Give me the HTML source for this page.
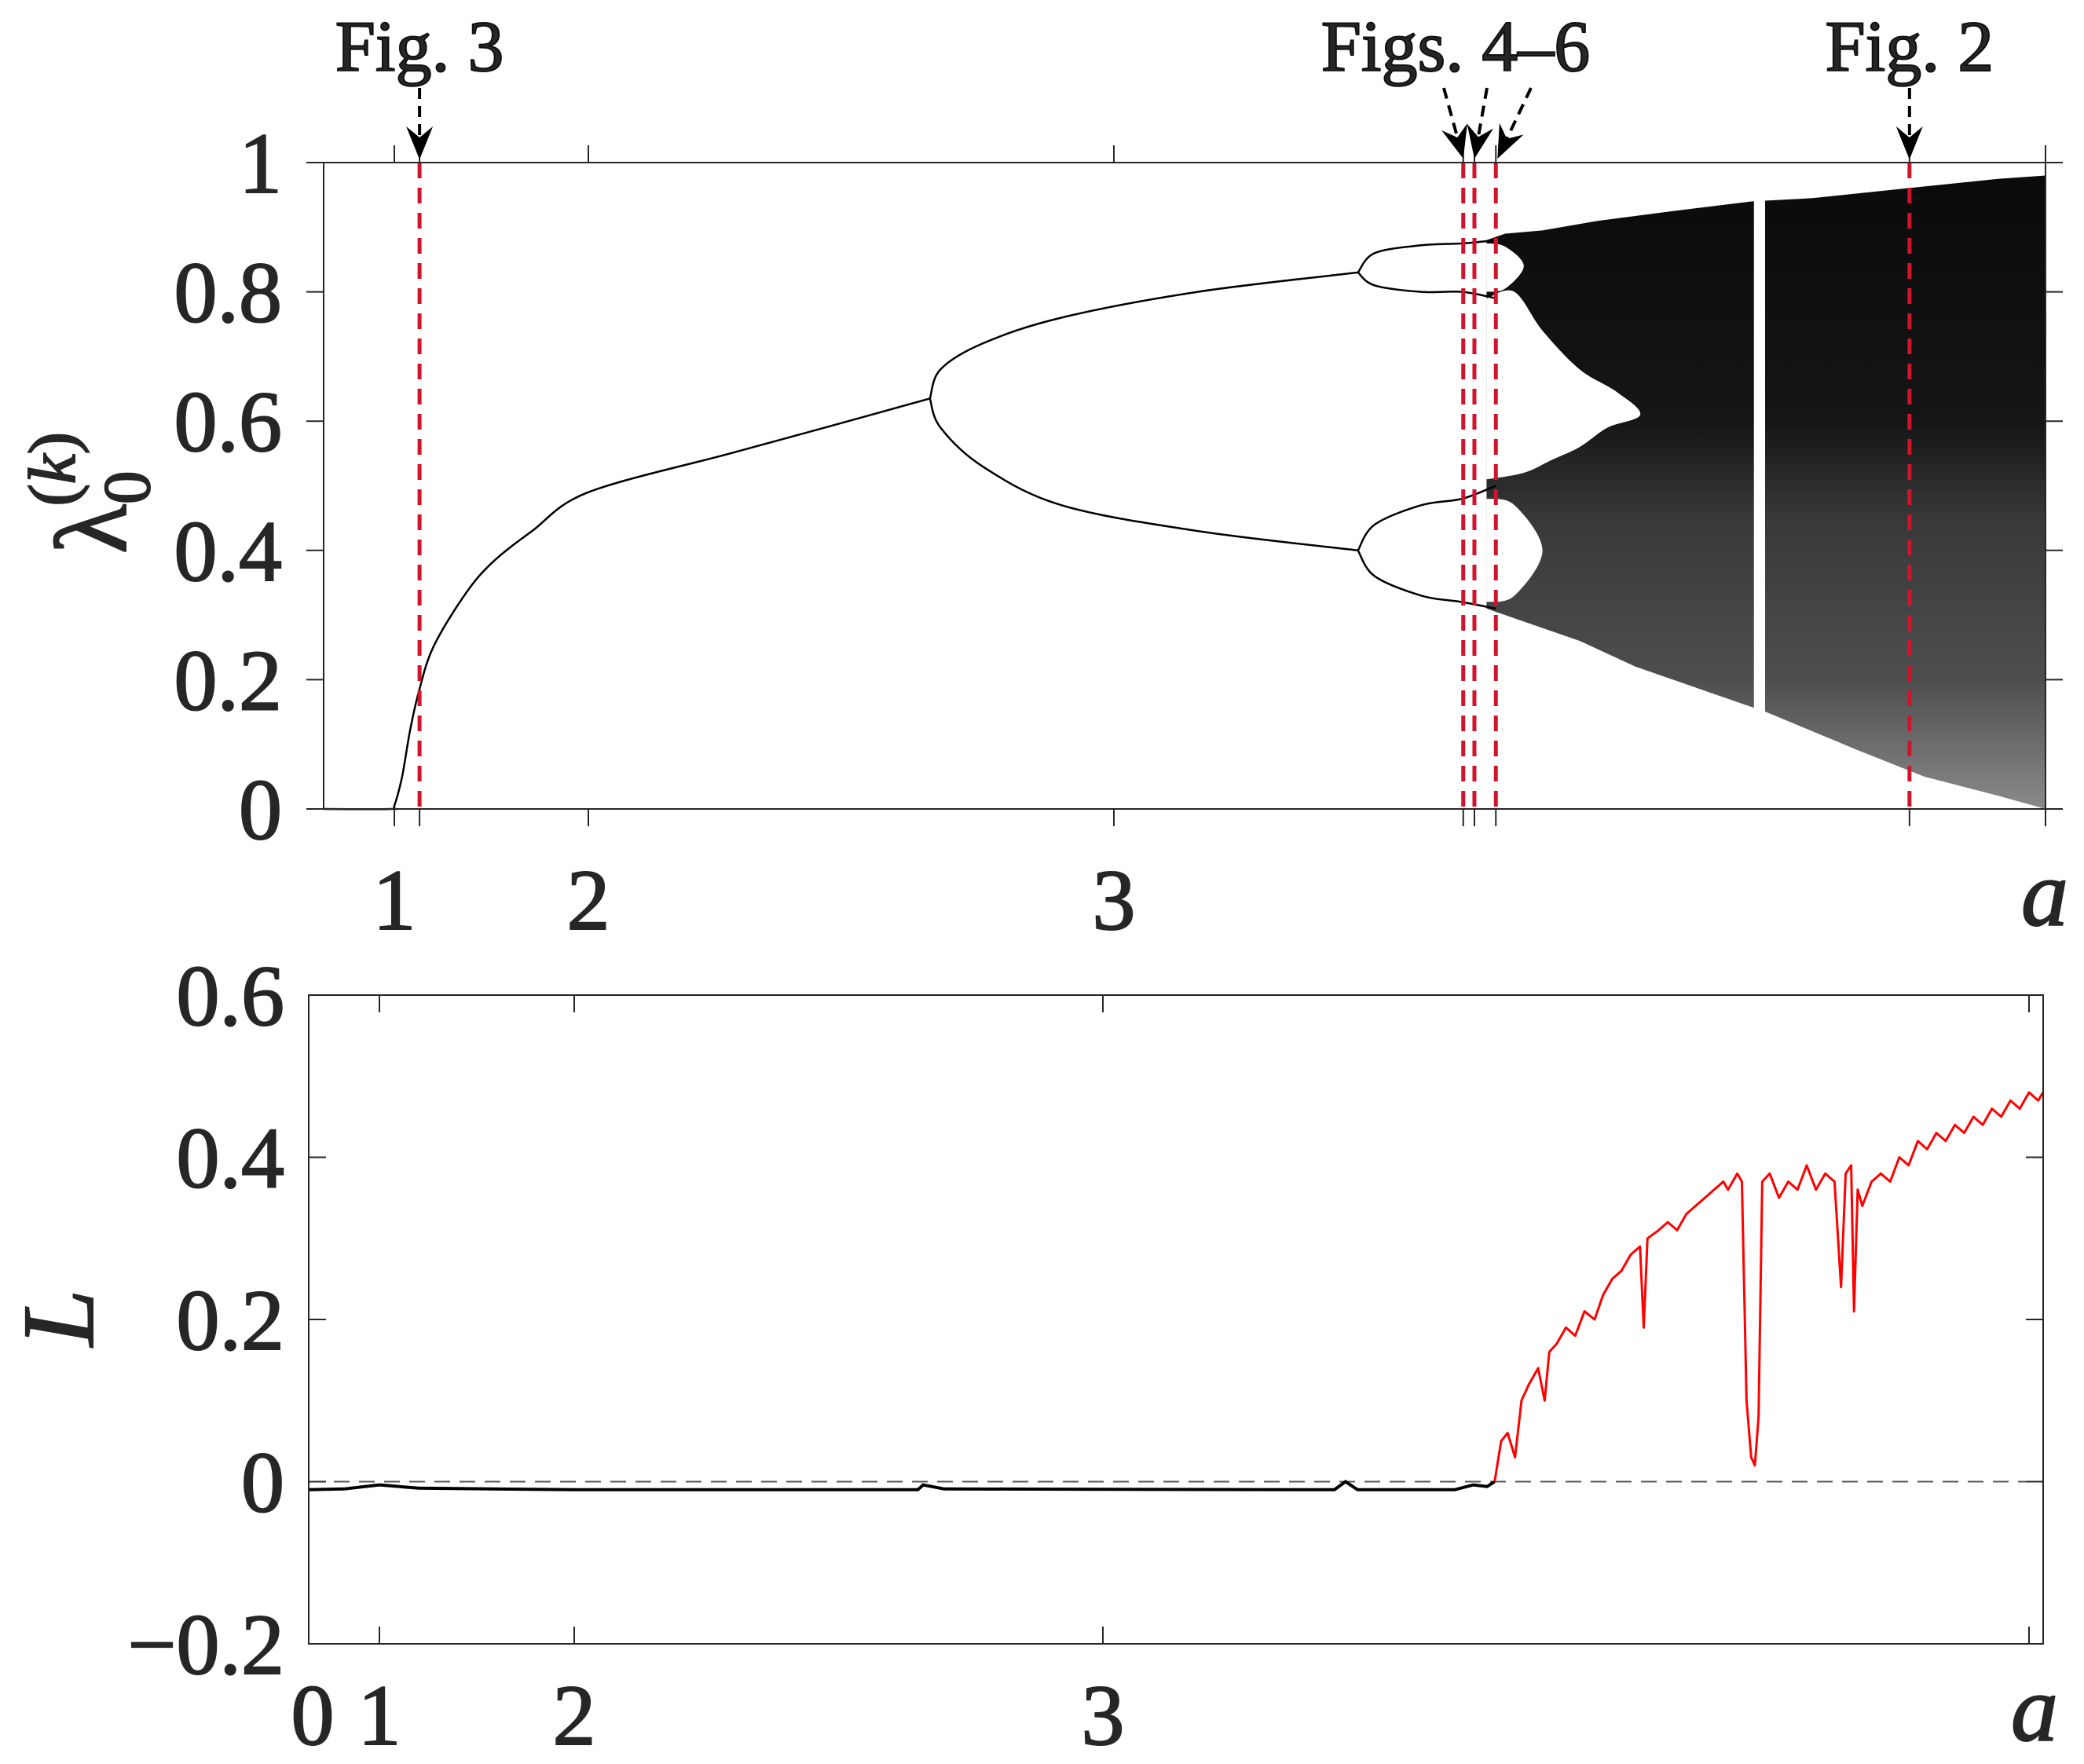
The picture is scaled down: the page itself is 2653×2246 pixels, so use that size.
<!DOCTYPE html>
<html><head><meta charset="utf-8">
<style>
html,body{margin:0;padding:0;background:#fff;}
svg{display:block;}
text{font-family:"Liberation Serif",serif;fill:#262626;}
</style></head>
<body>
<svg id="chart" width="2653" height="2246" viewBox="0 0 2653 2246" xmlns="http://www.w3.org/2000/svg">
<defs>
<linearGradient id="chaosGrad" gradientUnits="userSpaceOnUse" x1="0" y1="207" x2="0" y2="1030">
<stop offset="0" stop-color="#0a0a0a"/>
<stop offset="0.4" stop-color="#151515"/>
<stop offset="0.55" stop-color="#383838"/>
<stop offset="0.8" stop-color="#4e4e4e"/>
<stop offset="1" stop-color="#8a8a8a"/>
</linearGradient>
</defs>
<g id="topPanel"></g>
<g id="botPanel"></g>
</svg>
<script>
// ---------- data ----------
const xKnotsA = [0, 1, 2, 3, 4];
const topKnotsPx = [412, 502, 749, 1418, 2604];
const botKnotsPx = [393, 483, 731, 1404, 2583];
const topXTicks = [1, 2, 3];
const topXTickLabels = ["1", "2", "3"];
const topYTicks = [0, 0.2, 0.4, 0.6, 0.8, 1];
const topYTickLabels = ["0", "0.2", "0.4", "0.6", "0.8", "1"];
const botXTicks = [0, 1, 2, 3];
const botXTickLabels = ["0", "1", "2", "3"];
const botYTicks = [-0.2, 0, 0.2, 0.4, 0.6];
const botYTickLabels = ["\u22120.2", "0", "0.2", "0.4", "0.6"];
const figLinesA = [1.13, 3.375, 3.387, 3.41, 3.854];

const branchP1 = [[0,0],[0.95,0],[1.0,0.005],[1.04,0.05],[1.08,0.12],[1.125,0.18],[1.2,0.25],[1.36,0.33],[1.5,0.38],[1.71,0.43],[2.0,0.49],[2.27,0.55],[2.45,0.59],[2.65,0.635]];
const branchP2Up = [[2.65,0.635],[2.67,0.68],[2.75,0.72],[2.9,0.76],[3.09,0.80],[3.262,0.83]];
const branchP2Lo = [[2.65,0.635],[2.67,0.59],[2.75,0.53],[2.9,0.47],[3.09,0.43],[3.262,0.40]];
const branchP4a = [[3.262,0.83],[3.28,0.86],[3.33,0.872],[3.374,0.875],[3.41,0.88]];
const branchP4b = [[3.262,0.83],[3.28,0.81],[3.33,0.80],[3.374,0.80],[3.41,0.79]];
const branchP4c = [[3.262,0.40],[3.28,0.44],[3.33,0.47],[3.374,0.48],[3.41,0.50]];
const branchP4d = [[3.262,0.40],[3.28,0.36],[3.33,0.33],[3.374,0.32],[3.41,0.31]];

const chaosUpper = [[3.40,0.88],[3.42,0.89],[3.46,0.895],[3.52,0.91],[3.6,0.925],[3.685,0.94],[3.75,0.945],[3.85,0.96],[3.95,0.975],[4.0,0.98]];
const chaosLower = [[4.0,0.0],[3.95,0.02],[3.87,0.05],[3.80,0.09],[3.70,0.15],[3.66,0.17],[3.56,0.22],[3.50,0.26],[3.46,0.28],[3.42,0.30],[3.40,0.31]];
const holeMain = [[3.40,0.79],[3.43,0.80],[3.46,0.74],[3.50,0.68],[3.54,0.645],[3.565,0.61],[3.53,0.59],[3.50,0.56],[3.47,0.54],[3.44,0.52],[3.40,0.51]];
const holeUpper = [[3.40,0.875],[3.42,0.87],[3.44,0.84],[3.42,0.805],[3.40,0.80]];
const holeLower = [[3.40,0.48],[3.43,0.47],[3.46,0.40],[3.43,0.33],[3.40,0.32]];
const windowGap = [3.687, 3.699, 0.14, 0.95];

const lBlack = [[0,-0.01],[0.5,-0.009],[1,-0.004],[1.2,-0.008],[2,-0.01],[2.65,-0.01],[2.66,-0.004],[2.7,-0.009],[3.25,-0.01],[3.262,0.0],[3.275,-0.01],[3.38,-0.01],[3.40,-0.004],[3.415,-0.006],[3.423,0.0]];
const lRed = [[3.423,0.0],[3.43,0.05],[3.437,0.06],[3.445,0.03],[3.452,0.1],[3.46,0.12],[3.47,0.14],[3.477,0.1],[3.482,0.16],[3.49,0.17],[3.5,0.19],[3.51,0.18],[3.52,0.21],[3.531,0.2],[3.54,0.23],[3.55,0.25],[3.56,0.26],[3.57,0.28],[3.58,0.29],[3.584,0.19],[3.588,0.3],[3.6,0.31],[3.61,0.32],[3.62,0.31],[3.63,0.33],[3.64,0.34],[3.65,0.35],[3.66,0.36],[3.67,0.37],[3.675,0.36],[3.685,0.38],[3.69,0.37],[3.695,0.1],[3.7,0.03],[3.704,0.02],[3.708,0.08],[3.712,0.37],[3.72,0.38],[3.73,0.35],[3.74,0.37],[3.75,0.36],[3.76,0.39],[3.77,0.36],[3.78,0.38],[3.79,0.37],[3.797,0.24],[3.802,0.38],[3.808,0.39],[3.811,0.21],[3.815,0.36],[3.82,0.34],[3.83,0.37],[3.84,0.38],[3.85,0.37],[3.86,0.40],[3.87,0.39],[3.88,0.42],[3.89,0.41],[3.9,0.43],[3.91,0.42],[3.92,0.44],[3.93,0.43],[3.94,0.45],[3.95,0.44],[3.96,0.46],[3.97,0.45],[3.98,0.47],[3.99,0.46],[4.0,0.48],[4.01,0.47],[4.015,0.48]];

// ---------- axes ----------
const NS = "http://www.w3.org/2000/svg";
function pw(a, px){
  for (let i=0;i<xKnotsA.length-1;i++){
    if (a<=xKnotsA[i+1] || i===xKnotsA.length-2){
      const t=(a-xKnotsA[i])/(xKnotsA[i+1]-xKnotsA[i]);
      return px[i]+t*(px[i+1]-px[i]);
    }
  }
}
const TL=412, TR=2604, TT=207, TB=1030;
const BL=393, BR=2601, BT=1267, BB=2093;
const xTop = a => pw(a, topKnotsPx);
const yTop = v => TB - (v/1)*(TB-TT);
const xBot = a => pw(a, botKnotsPx);
const yBot = v => BB - (v+0.2)/0.8*(BB-BT);

function el(tag, attrs, parent){
  const e=document.createElementNS(NS,tag);
  for(const k in attrs) e.setAttribute(k, attrs[k]);
  parent.appendChild(e); return e;
}
function pts(arr, fx, fy){ return arr.map(p=>fx(p[0]).toFixed(1)+","+fy(p[1]).toFixed(1)).join(" "); }
function smoothPath(arr, fx, fy){
  const P=arr.map(p=>[fx(p[0]),fy(p[1])]);
  let d="M"+P[0][0].toFixed(1)+","+P[0][1].toFixed(1);
  for(let i=0;i<P.length-1;i++){
    const p0=P[Math.max(0,i-1)], p1=P[i], p2=P[i+1], p3=P[Math.min(P.length-1,i+2)];
    const c1=[p1[0]+(p2[0]-p0[0])/6, p1[1]+(p2[1]-p0[1])/6];
    const c2=[p2[0]-(p3[0]-p1[0])/6, p2[1]-(p3[1]-p1[1])/6];
    d+=" C"+c1[0].toFixed(1)+","+c1[1].toFixed(1)+" "+c2[0].toFixed(1)+","+c2[1].toFixed(1)+" "+p2[0].toFixed(1)+","+p2[1].toFixed(1);
  }
  return d;
}

const gTop=document.getElementById("topPanel"), gBot=document.getElementById("botPanel");

// chaos region
const chaos = el("polygon",{points:pts(chaosUpper.concat(chaosLower),xTop,yTop),fill:"url(#chaosGrad)"},gTop);


[holeMain, holeUpper, holeLower].forEach((h,i)=>{
  const p=el("path",{d:smoothPath(h,xTop,yTop)+" Z",fill:"#fff"},gTop);
  
  
});
const gap = el("rect",{x:xTop(windowGap[0]),y:yTop(windowGap[3]),width:xTop(windowGap[1])-xTop(windowGap[0]),height:yTop(windowGap[2])-yTop(windowGap[3]),fill:"#fff"},gTop);



[branchP1,branchP2Up,branchP2Lo,branchP4a,branchP4b,branchP4c,branchP4d].forEach((b,i)=>{
  const l=el("path",{d:smoothPath(b,xTop,yTop),fill:"none",stroke:"#000","stroke-width":2.5},gTop);
  
  
});

// red fig lines
figLinesA.forEach((a,i)=>{
  const l=el("line",{x1:xTop(a),x2:xTop(a),y1:TT,y2:TB,stroke:"#d0142c","stroke-width":5,"stroke-dasharray":"20 12"},gTop);
  
  
});

// top frame and ticks
const tf=el("rect",{x:TL,y:TT,width:TR-TL,height:TB-TT,fill:"none",stroke:"#262626","stroke-width":2},gTop);


topYTicks.forEach((v,i)=>{
  const y=yTop(v);
  el("line",{x1:TL-22,x2:TL,y1:y,y2:y,stroke:"#262626","stroke-width":2},gTop);
  el("line",{x1:TR,x2:TR+22,y1:y,y2:y,stroke:"#262626","stroke-width":2},gTop);
  const t=el("text",{x:359,y:y+38,"text-anchor":"end","font-size":110,stroke:"#262626","stroke-width":2},gTop);
  t.textContent=topYTickLabels[i];
  
  
});
topXTicks.concat(figLinesA).concat([4]).forEach(a=>{
  const x=xTop(a);
  el("line",{x1:x,x2:x,y1:TB,y2:TB+22,stroke:"#262626","stroke-width":2},gTop);
  el("line",{x1:x,x2:x,y1:TT-22,y2:TT,stroke:"#262626","stroke-width":2},gTop);
});
topXTicks.forEach((a,i)=>{
  const t=el("text",{x:xTop(a),y:1183,"text-anchor":"middle","font-size":110,stroke:"#262626","stroke-width":2},gTop);
  t.textContent=topXTickLabels[i];
  
  
});

// annotations
function ann(txt,x,name){
  const t=el("text",{x:x,y:90,"text-anchor":"middle","font-size":92,stroke:"#111","stroke-width":2,fill:"#111"},gTop);
  t.textContent=txt;
  
  
}
ann("Fig. 3",xTop(figLinesA[0]),"fig3-annotation");
ann("Figs.  4\u20136",1853,"figs4-6-annotation");
ann("Fig.  2",xTop(figLinesA[4]),"fig2-annotation");
function arrow(x1,y1,x2,y2,name){
  const dx=x2-x1, dy=y2-y1, L=Math.hypot(dx,dy), ux=dx/L, uy=dy/L;
  const bx=x2-ux*38, by=y2-uy*38;
  const g=el("g",{},gTop);
  
  
  el("line",{x1:x1,y1:y1,x2:bx+ux*10,y2:by+uy*10,stroke:"#000","stroke-width":4,"stroke-dasharray":"14 9"},g);
  const px=-uy, py=ux;
  const p=[[x2,y2],[bx-ux*4+px*17,by-uy*4+py*17],[bx+ux*10,by+uy*10],[bx-ux*4-px*17,by-uy*4-py*17]];
  el("polygon",{points:p.map(q=>q[0].toFixed(1)+","+q[1].toFixed(1)).join(" "),fill:"#000"},g);
}
arrow(xTop(figLinesA[0]),112,xTop(figLinesA[0]),203,"fig3-arrow");
arrow(1838,112,xTop(figLinesA[1]),202,"figs4-6-arrow-1");
arrow(1893,112,xTop(figLinesA[2]),202,"figs4-6-arrow-2");
arrow(1949,112,xTop(figLinesA[3])+2,202,"figs4-6-arrow-3");
arrow(xTop(figLinesA[4]),112,xTop(figLinesA[4]),203,"fig2-arrow");

// top axis labels
const ylab=el("text",{x:0,y:0,"font-size":130,stroke:"#262626","stroke-width":2,transform:"translate(160,705) rotate(-90)"},gTop);


ylab.innerHTML='<tspan>\u03bb</tspan><tspan font-size="85" dy="30">0</tspan><tspan font-size="85" dy="-95" dx="-45">(<tspan font-style="italic">k</tspan>)</tspan>';
const xlabT=el("text",{x:2603,y:1178,"text-anchor":"middle","font-size":120,"font-style":"italic",stroke:"#262626","stroke-width":2},gTop);
xlabT.textContent="a";



// ---------- bottom panel ----------
const zl=el("line",{x1:BL,x2:BR,y1:yBot(0),y2:yBot(0),stroke:"#555","stroke-width":2,"stroke-dasharray":"20 12"},gBot);


const lb=el("polyline",{points:pts(lBlack,xBot,yBot),fill:"none",stroke:"#000","stroke-width":4},gBot);


const lr=el("polyline",{points:pts(lRed,xBot,yBot),fill:"none",stroke:"#ff0000","stroke-width":3,"stroke-linejoin":"round"},gBot);



const bf=el("rect",{x:BL,y:BT,width:BR-BL,height:BB-BT,fill:"none",stroke:"#262626","stroke-width":2},gBot);


botYTicks.forEach((v,i)=>{
  const y=yBot(v);
  el("line",{x1:BL,x2:BL+22,y1:y,y2:y,stroke:"#262626","stroke-width":2},gBot);
  el("line",{x1:BR-22,x2:BR,y1:y,y2:y,stroke:"#262626","stroke-width":2},gBot);
  const t=el("text",{x:362,y:y+38,"text-anchor":"end","font-size":110,stroke:"#262626","stroke-width":2},gBot);
  t.textContent=botYTickLabels[i];
  
  
});
botXTicks.concat([4]).forEach(a=>{
  const x=xBot(a);
  el("line",{x1:x,x2:x,y1:BB-22,y2:BB,stroke:"#262626","stroke-width":2},gBot);
  el("line",{x1:x,x2:x,y1:BT,y2:BT+22,stroke:"#262626","stroke-width":2},gBot);
});
botXTicks.forEach((a,i)=>{
  const t=el("text",{x:xBot(a)+(a===0?5:0),y:2221,"text-anchor":"middle","font-size":110,stroke:"#262626","stroke-width":2},gBot);
  t.textContent=botXTickLabels[i];
  
  
});
const ylabB=el("text",{x:0,y:0,"font-size":130,"font-style":"italic","text-anchor":"middle",stroke:"#262626","stroke-width":2,transform:"translate(118,1678) rotate(-90)"},gBot);
ylabB.textContent="L";


const xlabB=el("text",{x:2590,y:2216,"text-anchor":"middle","font-size":120,"font-style":"italic",stroke:"#262626","stroke-width":2},gBot);
xlabB.textContent="a";


</script>
</body></html>
